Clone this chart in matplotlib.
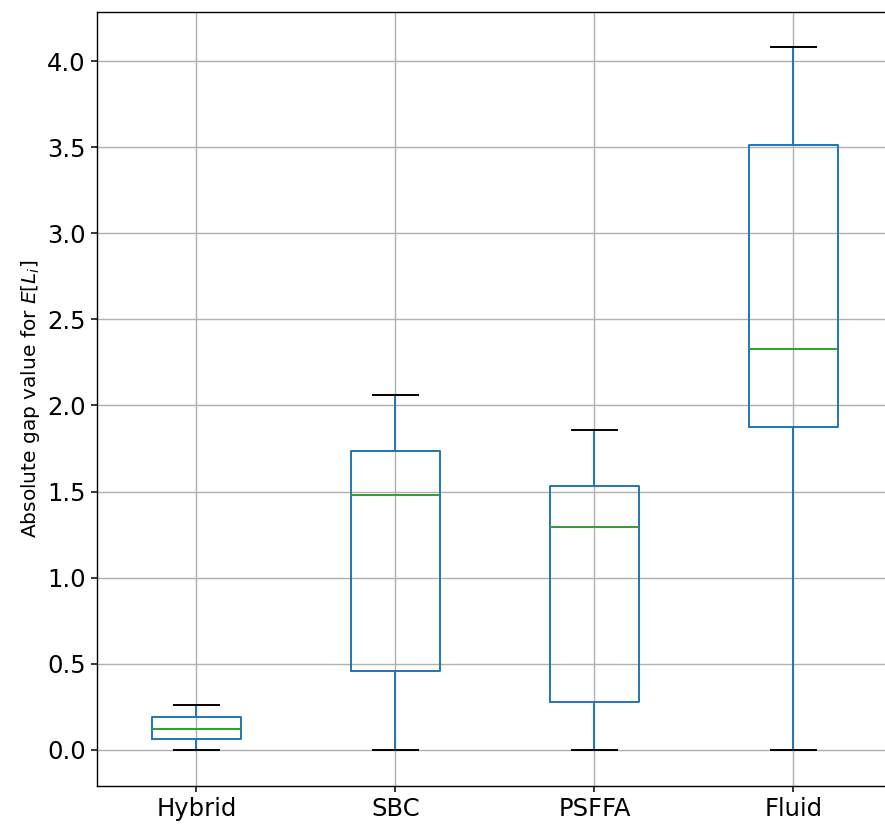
import matplotlib
matplotlib.use('Agg')
import matplotlib.pyplot as plt

# Values
methods = ['Hybrid', 'SBC', 'PSFFA', 'Fluid']
whislo = [0.0, 0.0, 0.0, 0.0]
q1 = [0.064, 0.455, 0.280, 1.877]
med = [0.122, 1.480, 1.295, 2.330]
q3 = [0.188, 1.735, 1.530, 3.515]
whishi = [0.261, 2.060, 1.860, 4.080]

stats = []
for i, name in enumerate(methods):
    stats.append({'label': name, 'whislo': whislo[i], 'q1': q1[i], 'med': med[i],
                  'q3': q3[i], 'whishi': whishi[i], 'fliers': []})

lw = 1.4
fig, ax = plt.subplots(figsize=(8.85, 8.27), dpi=100)
ax.bxp(stats, widths=0.45,
       boxprops=dict(color='C0', linewidth=lw), whiskerprops=dict(color='C0', linewidth=lw),
       capprops=dict(color='k', linewidth=lw), medianprops=dict(color='C2', linewidth=lw))
ax.grid(True, linewidth=1.0)
ax.set_xlim(0.5, 4.5)
ax.set_ylim(-0.21, 4.285)
ax.tick_params(labelsize=17.5, width=1.1, length=4.5)
for s in ax.spines.values():
    s.set_linewidth(1.0)
ax.set_ylabel('Absolute gap value for $E[L_i]$', fontsize=14.5)
fig.subplots_adjust(left=0.1096, right=1.009, top=0.9855, bottom=0.0496)
fig.savefig('out.png')
